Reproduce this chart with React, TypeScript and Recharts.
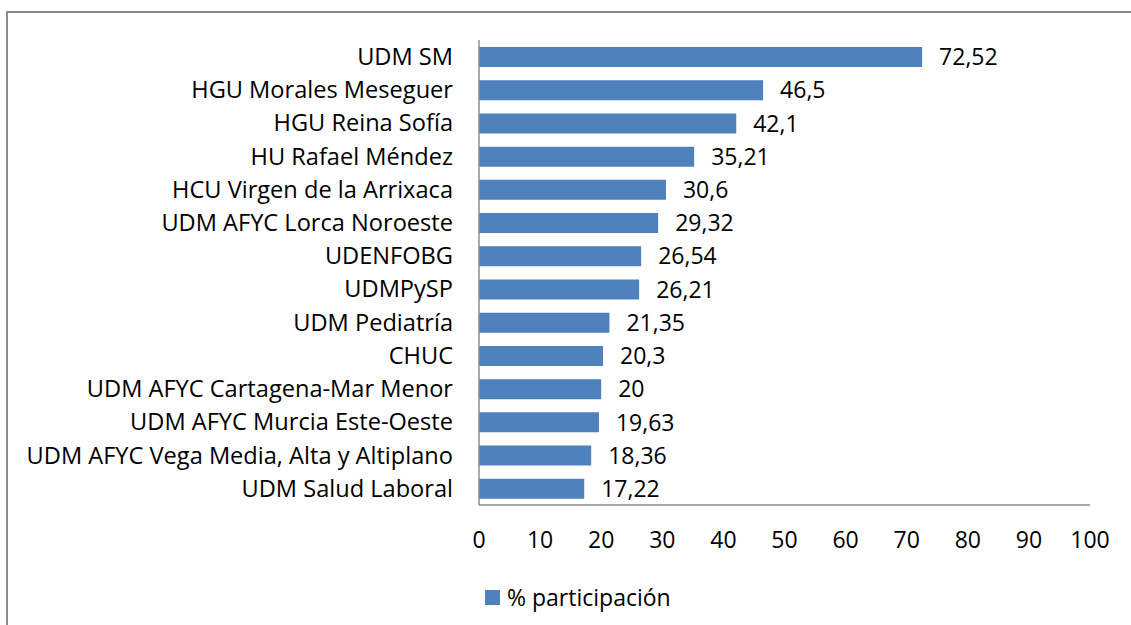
import React from 'react';
import { BarChart, Bar, XAxis, YAxis, LabelList, Legend } from 'recharts';

const categories = [
  'UDM SM',
  'HGU Morales Meseguer',
  'HGU Reina Sofía',
  'HU Rafael Méndez',
  'HCU Virgen de la Arrixaca',
  'UDM AFYC Lorca Noroeste',
  'UDENFOBG',
  'UDMPySP',
  'UDM Pediatría',
  'CHUC',
  'UDM AFYC Cartagena-Mar Menor',
  'UDM AFYC Murcia Este-Oeste',
  'UDM AFYC Vega Media, Alta y Altiplano',
  'UDM Salud Laboral',
];
const participacion = [72.52, 46.5, 42.1, 35.21, 30.6, 29.32, 26.54, 26.21, 21.35, 20.3, 20, 19.63, 18.36, 17.22];
const xTicks = [0, 10, 20, 30, 40, 50, 60, 70, 80, 90, 100];
const seriesName = '% participación';

const data = categories.map((c, i) => ({ name: c, value: participacion[i] }));

const FONT = '"Open Sans", sans-serif';
const FS = 23;
const FS_CAT = 23.6;
const BLUE = '#4F81BD';
const AXIS = '#8c8c8c';

const fmt = (v: any) => String(v).replace('.', ',');

const LegendContent = () => (
  <div style={{ display: 'flex', alignItems: 'center', height: 26, fontFamily: FONT, fontSize: FS, color: '#000', paddingLeft: 485 }}>
    <span style={{ display: 'inline-block', width: 15, height: 15, background: BLUE, marginRight: 7 }} />
    <span>{seriesName}</span>
  </div>
);

export default function App() {
  return (
    <div style={{ position: 'absolute', left: 0, top: 0, width: 1131, height: 625, overflow: 'hidden', background: '#fff' }}>
      <div style={{ position: 'absolute', left: 6, top: 11, width: 1200, height: 700, border: '2px solid #8a8a8a', boxSizing: 'border-box' }} />
      <div style={{ position: 'absolute', left: 0, top: 0 }}>
        <BarChart
          width={1131}
          height={625}
          data={data}
          layout="vertical"
          margin={{ top: 40, right: 41, left: 0, bottom: 54 }}
          barSize={20}
        >
          <XAxis
            type="number"
            domain={[0, 100]}
            ticks={xTicks}
            interval={0}
            height={40}
            axisLine={{ stroke: AXIS, strokeWidth: 1.5 }}
            tickLine={false}
            tickSize={0}
            tickMargin={27}
            tick={{ fill: '#000', fontSize: FS, fontFamily: FONT }}
          />
          <YAxis
            type="category"
            dataKey="name"
            width={479}
            interval={0}
            axisLine={{ stroke: AXIS, strokeWidth: 1.5 }}
            tickLine={false}
            tickSize={0}
            tickMargin={26}
            tick={{ fill: '#000', fontSize: FS_CAT, fontFamily: FONT }}
          />
          <Legend
            verticalAlign="bottom"
            content={<LegendContent />}
            wrapperStyle={{ position: 'absolute', left: 0, top: 584, width: 1131 }}
          />
          <Bar dataKey="value" name={seriesName} fill={BLUE} isAnimationActive={false}>
            <LabelList
              dataKey="value"
              position="right"
              offset={17}
              formatter={fmt}
              style={{ fill: '#000', fontSize: FS, fontFamily: FONT }}
            />
          </Bar>
        </BarChart>
      </div>
    </div>
  );
}
